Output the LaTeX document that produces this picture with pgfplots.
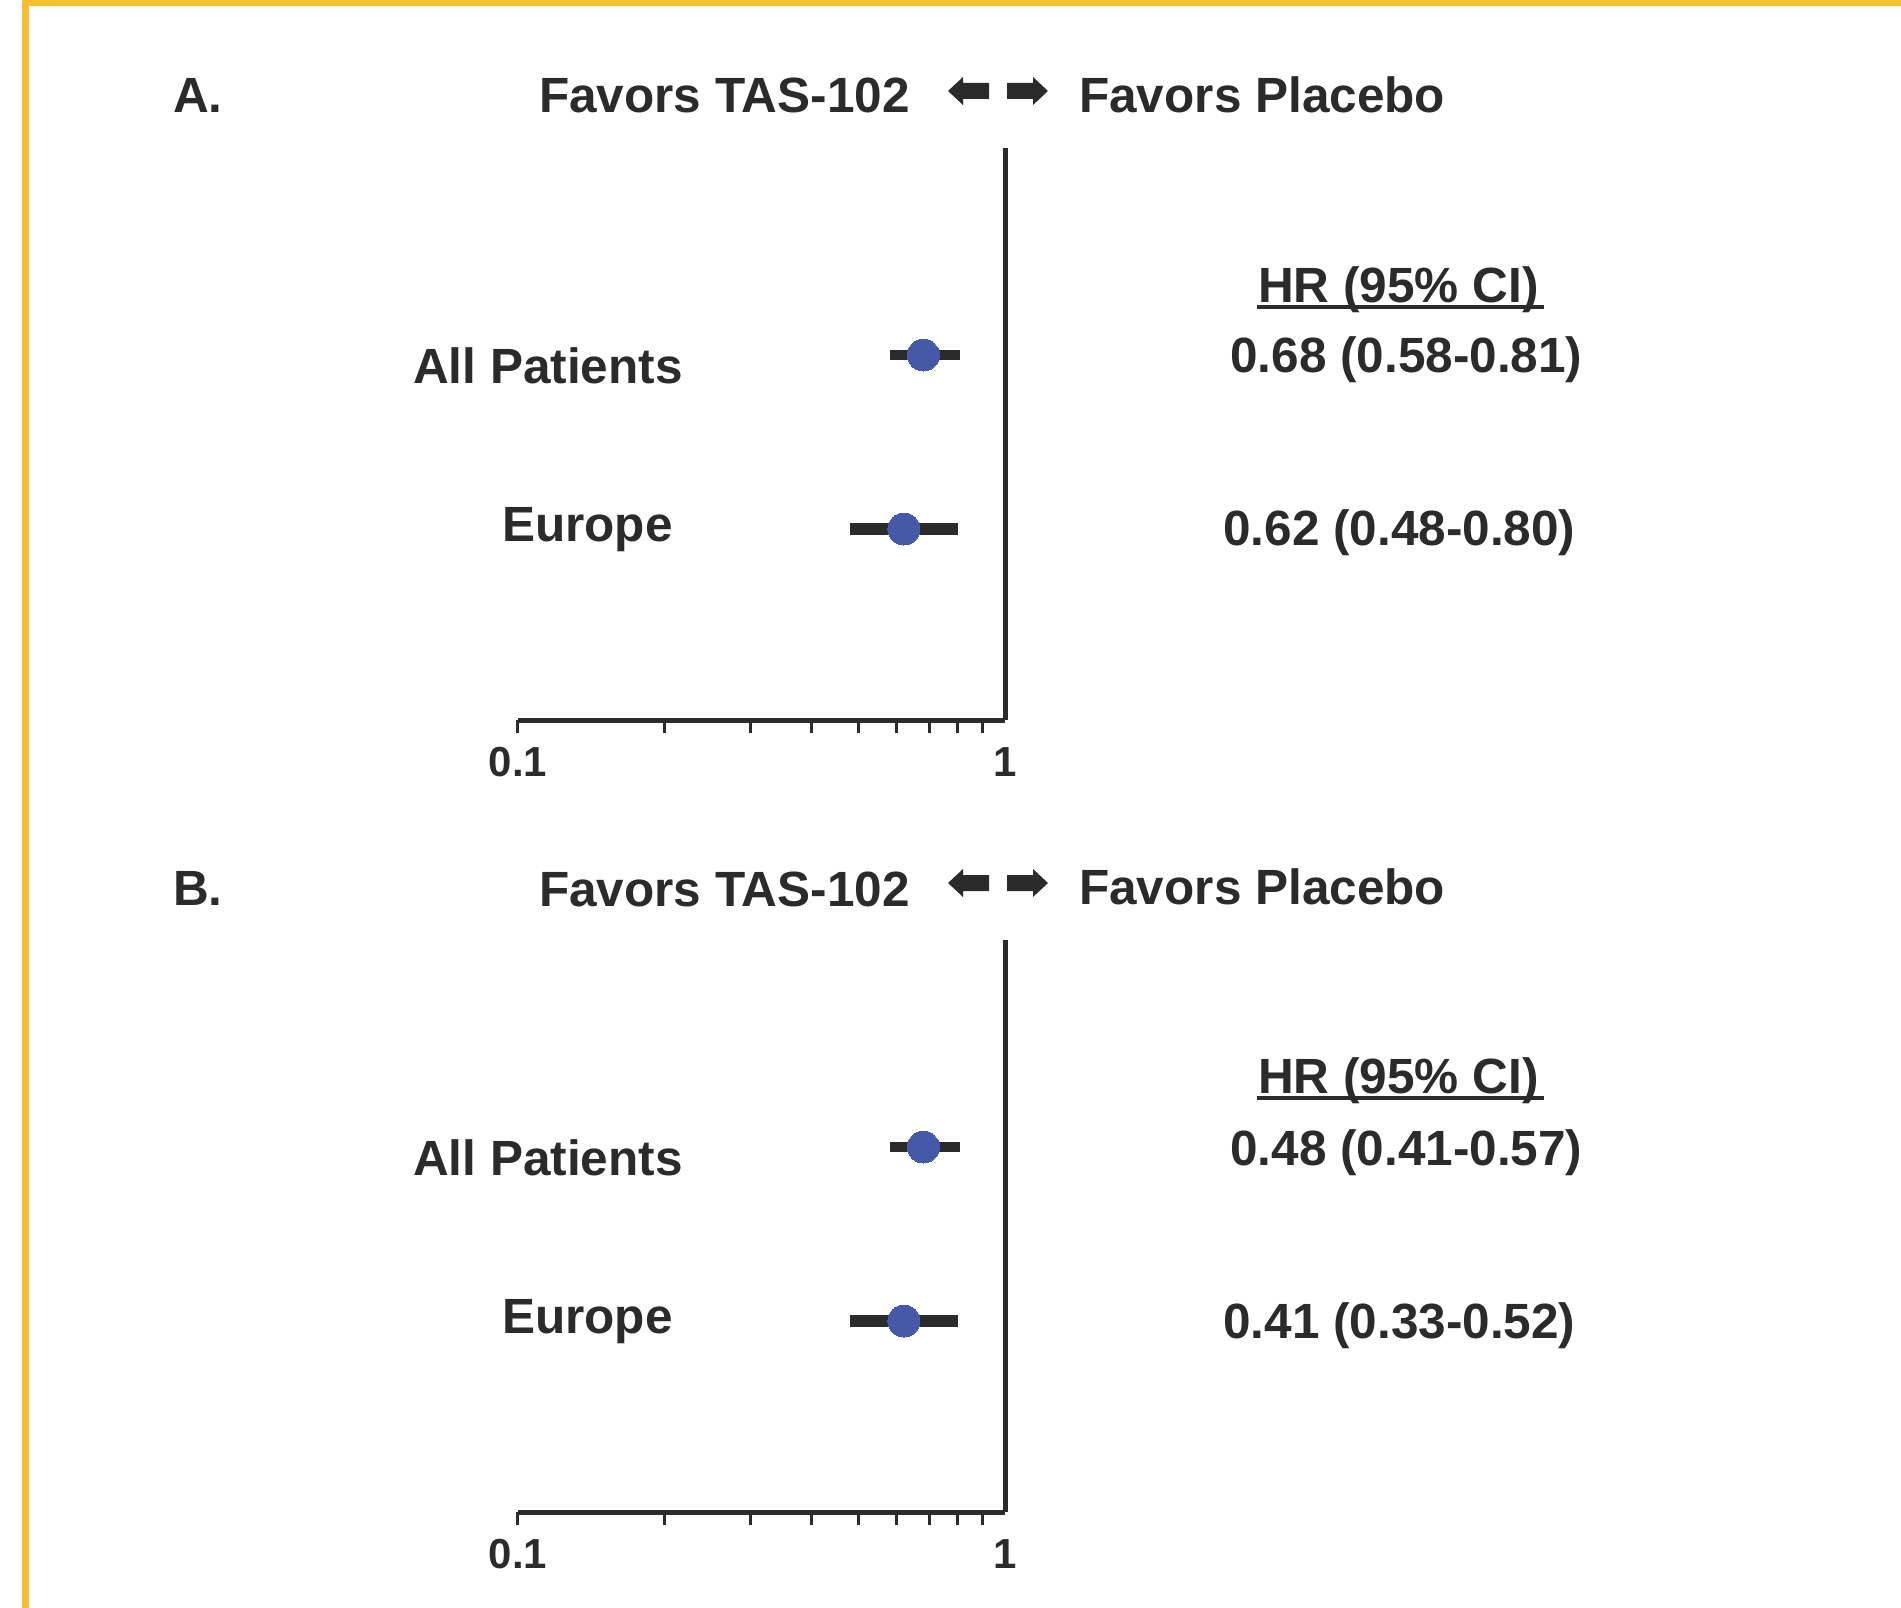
\documentclass[border=0pt]{standalone}
\usepackage{pgfplots}
\pgfplotsset{compat=1.18}
\usepackage{fontspec}
\setmainfont{Liberation Sans}
\definecolor{ink}{RGB}{43,43,43}
\definecolor{dotblue}{RGB}{70,88,168}
\definecolor{gold}{RGB}{248,190,50}
\newcommand{\bigf}{\fontsize{49.5}{59}\selectfont\bfseries}
\newcommand{\tickf}{\fontsize{42}{50}\selectfont\bfseries}
\begin{document}
\begin{tikzpicture}
\path[use as bounding box, fill=white] (0,0) rectangle (1901pt,-1608pt);
\fill[gold] (22pt,0) rectangle (1901pt,-6pt);
\fill[gold] (22pt,0) rectangle (29pt,-1608pt);

% ---------- Panel A ----------
\begin{axis}[at={(518pt,-720pt)}, anchor=south west,
  scale only axis, width=487pt, height=572pt,
  xmode=log, xmin=0.1, xmax=1, ymin=-0.0977, ymax=3.1897,
  axis x line*=bottom, axis y line*=right, ytick=\empty,
  axis line style={line width=5pt, color=ink},
  xtick={0.1,0.2,0.3,0.4,0.5,0.6,0.7,0.8,0.9},
  xticklabels={0.1,,,,,,,,},
  extra x ticks={1}, extra x tick labels={1},
  extra x tick style={major tick length=0pt, xticklabel style={yshift=-13pt}},
  minor x tick style={draw=none},
  tick align=outside, major tick length=13pt,
  tick style={line width=3pt, color=ink},
  xticklabel style={font=\tickf, text=ink, inner sep=0pt, yshift=-14pt},
  clip=false]
\addplot[ink, line width=10pt, no marks] coordinates {(0.58,2) (0.81,2)};
\addplot[ink, line width=12pt, no marks] coordinates {(0.48,1) (0.80,1)};
\addplot[only marks, mark=*, mark size=16pt, color=dotblue, mark options={fill=dotblue, draw=dotblue, line width=0pt}] coordinates {(0.68,2) (0.62,1)};
\end{axis}
\node[anchor=base west, inner sep=0, font=\bigf, text=ink] at (173pt,-113pt) {A.};
\node[anchor=base west, inner sep=0, font=\bigf, text=ink] at (539pt,-113pt) {Favors TAS-102};
\node[anchor=base west, inner sep=0, font=\bigf, text=ink] at (1079pt,-113pt) {Favors Placebo};
\fill[ink] (948pt,-91pt) -- (963pt,-77pt) -- (963pt,-83pt) -- (989pt,-83pt) -- (989pt,-99pt) -- (963pt,-99pt) -- (963pt,-105pt) -- cycle;
\fill[ink] (1048pt,-91pt) -- (1033pt,-77pt) -- (1033pt,-83pt) -- (1007pt,-83pt) -- (1007pt,-99pt) -- (1033pt,-99pt) -- (1033pt,-105pt) -- cycle;
\node[anchor=base west, inner sep=0, font=\bigf, text=ink] at (413pt,-383pt) {All Patients};
\node[anchor=base west, inner sep=0, font=\bigf, text=ink] at (502pt,-541pt) {Europe};
\node[anchor=base west, inner sep=0, font=\bigf, text=ink] at (1258pt,-302pt) {HR (95\% CI)};
\draw[ink, line width=4.5pt] (1257pt,-307pt) -- (1544pt,-307pt);
\node[anchor=base west, inner sep=0, font=\bigf, text=ink] at (1230pt,-372pt) {0.68 (0.58-0.81)};
\node[anchor=base west, inner sep=0, font=\bigf, text=ink] at (1223pt,-545pt) {0.62 (0.48-0.80)};

% ---------- Panel B ----------
\begin{axis}[at={(518pt,-1512pt)}, anchor=south west,
  scale only axis, width=487pt, height=572pt,
  xmode=log, xmin=0.1, xmax=1, ymin=-0.0977, ymax=3.1897,
  axis x line*=bottom, axis y line*=right, ytick=\empty,
  axis line style={line width=5pt, color=ink},
  xtick={0.1,0.2,0.3,0.4,0.5,0.6,0.7,0.8,0.9},
  xticklabels={0.1,,,,,,,,},
  extra x ticks={1}, extra x tick labels={1},
  extra x tick style={major tick length=0pt, xticklabel style={yshift=-13pt}},
  minor x tick style={draw=none},
  tick align=outside, major tick length=13pt,
  tick style={line width=3pt, color=ink},
  xticklabel style={font=\tickf, text=ink, inner sep=0pt, yshift=-14pt},
  clip=false]
\addplot[ink, line width=10pt, no marks] coordinates {(0.58,2) (0.81,2)};
\addplot[ink, line width=12pt, no marks] coordinates {(0.48,1) (0.80,1)};
\addplot[only marks, mark=*, mark size=16pt, color=dotblue, mark options={fill=dotblue, draw=dotblue, line width=0pt}] coordinates {(0.68,2) (0.62,1)};
\end{axis}
\node[anchor=base west, inner sep=0, font=\bigf, text=ink] at (173pt,-905pt) {B.};
\node[anchor=base west, inner sep=0, font=\bigf, text=ink] at (539pt,-906pt) {Favors TAS-102};
\node[anchor=base west, inner sep=0, font=\bigf, text=ink] at (1079pt,-904pt) {Favors Placebo};
\fill[ink] (948pt,-883pt) -- (963pt,-869pt) -- (963pt,-875pt) -- (989pt,-875pt) -- (989pt,-891pt) -- (963pt,-891pt) -- (963pt,-897pt) -- cycle;
\fill[ink] (1048pt,-883pt) -- (1033pt,-869pt) -- (1033pt,-875pt) -- (1007pt,-875pt) -- (1007pt,-891pt) -- (1033pt,-891pt) -- (1033pt,-897pt) -- cycle;
\node[anchor=base west, inner sep=0, font=\bigf, text=ink] at (413pt,-1175pt) {All Patients};
\node[anchor=base west, inner sep=0, font=\bigf, text=ink] at (502pt,-1333pt) {Europe};
\node[anchor=base west, inner sep=0, font=\bigf, text=ink] at (1258pt,-1093pt) {HR (95\% CI)};
\draw[ink, line width=4.5pt] (1257pt,-1098pt) -- (1544pt,-1098pt);
\node[anchor=base west, inner sep=0, font=\bigf, text=ink] at (1230pt,-1165pt) {0.48 (0.41-0.57)};
\node[anchor=base west, inner sep=0, font=\bigf, text=ink] at (1223pt,-1338pt) {0.41 (0.33-0.52)};
\end{tikzpicture}
\end{document}
